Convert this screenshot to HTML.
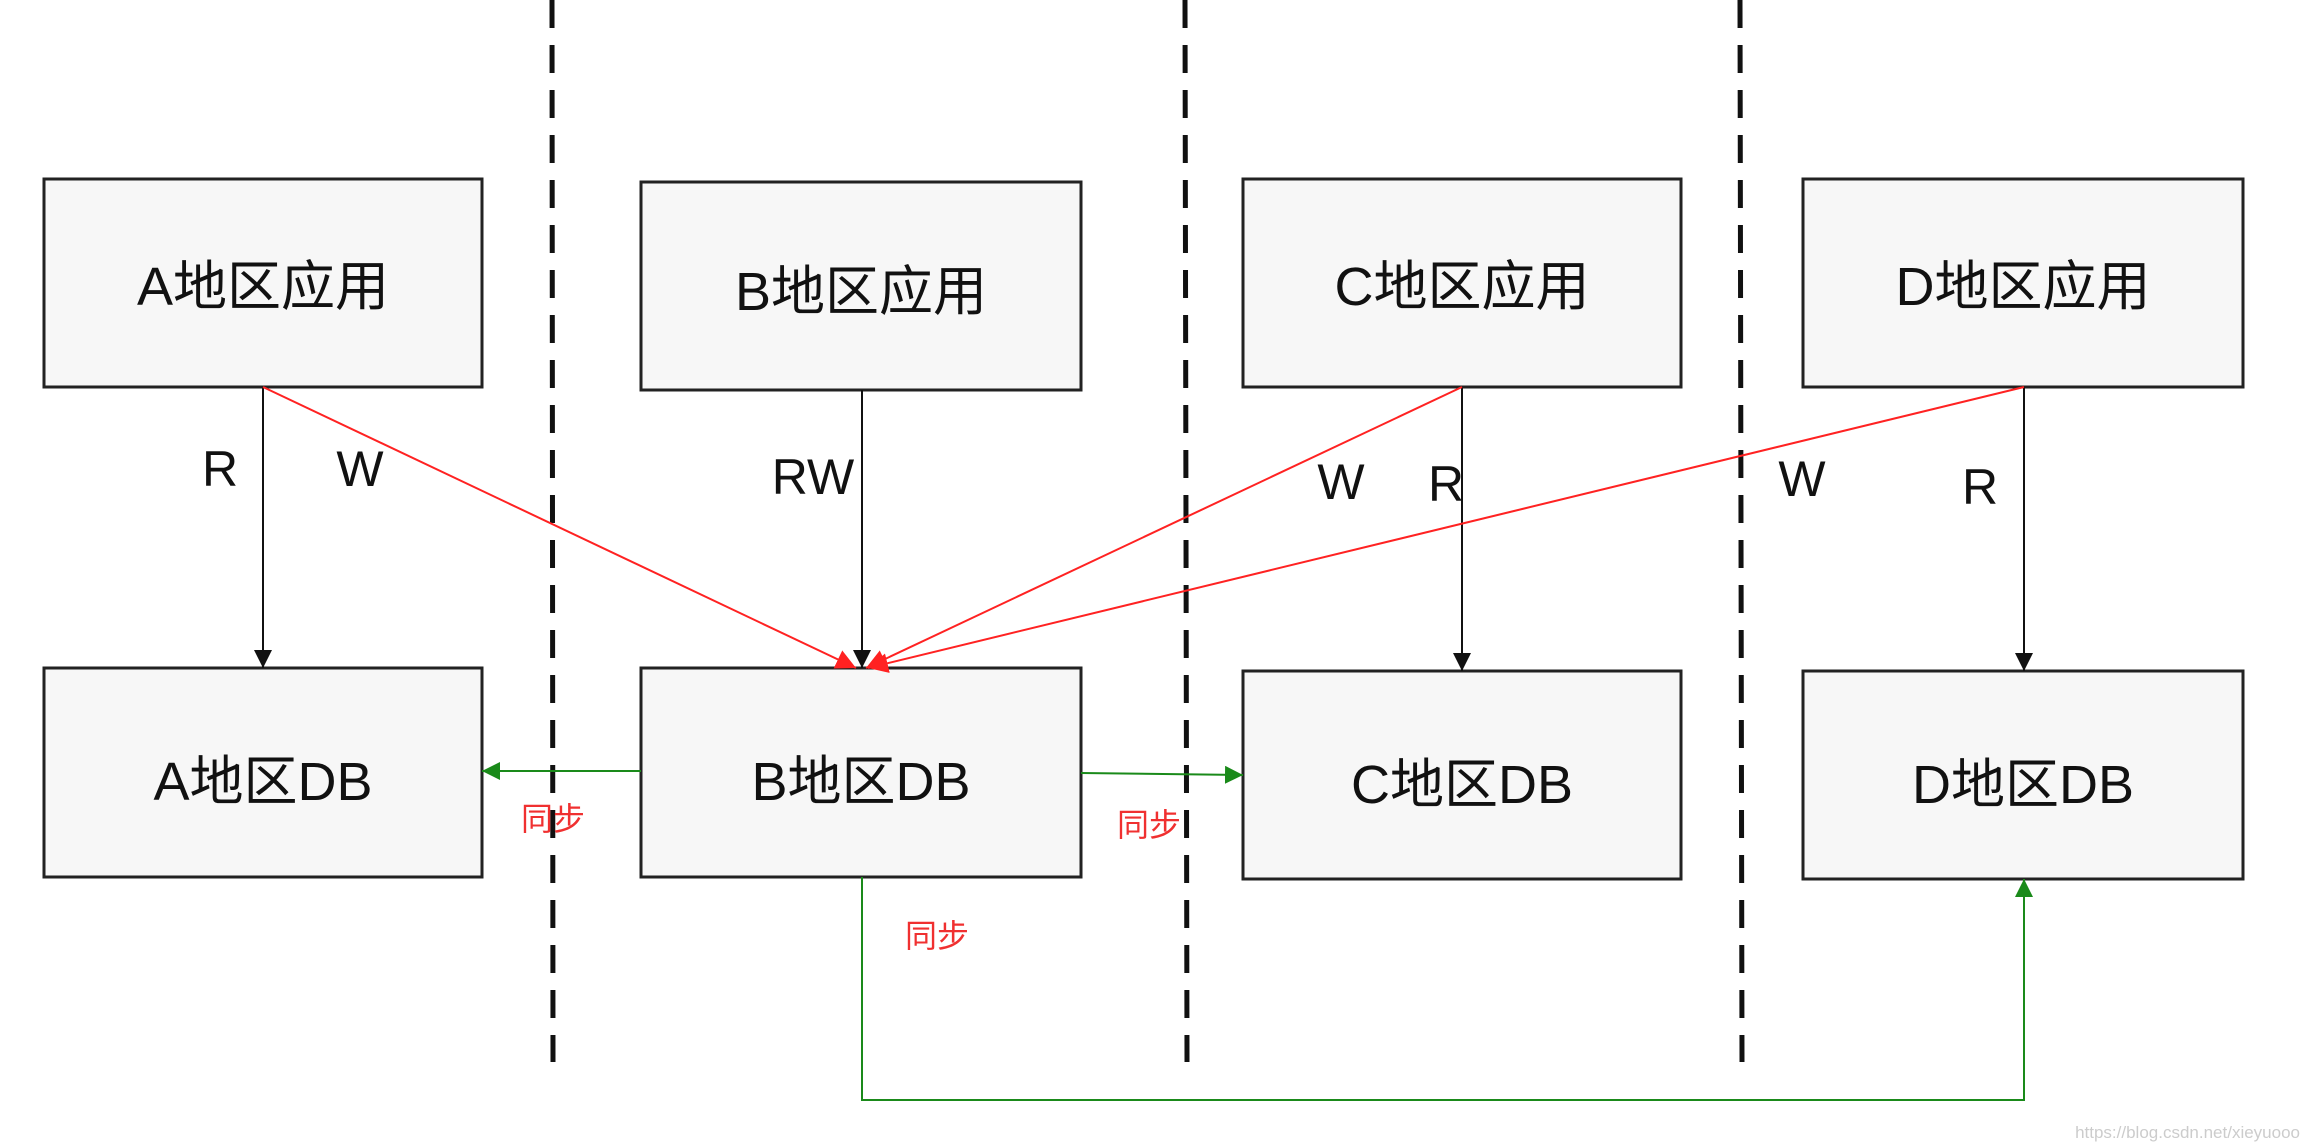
<!DOCTYPE html>
<html><head><meta charset="utf-8"><style>
body{margin:0;background:#fff;}
svg{display:block}
.b{fill:#f7f7f7;stroke:#222;stroke-width:3}
.t{font-family:"Liberation Sans","Noto Sans CJK SC",sans-serif;font-size:54px;fill:#111;text-anchor:middle}
.l{font-family:"Liberation Sans",sans-serif;font-size:50px;fill:#111;text-anchor:middle}
.s{font-family:"Noto Sans CJK SC",sans-serif;font-size:32px;fill:#f03030;text-anchor:middle}
</style></head><body>
<svg width="2306" height="1144" viewBox="0 0 2306 1144" xmlns="http://www.w3.org/2000/svg">
<defs>
<marker id="kb" viewBox="0 0 10 10" markerWidth="18" markerHeight="18" refX="10" refY="5" orient="auto" markerUnits="userSpaceOnUse"><path d="M0,0L10,5L0,10z" fill="#111"/></marker>
<marker id="r" viewBox="0 0 10 10" markerWidth="20" markerHeight="20" refX="10" refY="5" orient="auto" markerUnits="userSpaceOnUse"><path d="M0,0L10,5L0,10z" fill="#f22"/></marker>
<marker id="g" viewBox="0 0 10 10" markerWidth="18" markerHeight="18" refX="10" refY="5" orient="auto" markerUnits="userSpaceOnUse"><path d="M0,0L10,5L0,10z" fill="#1a8a1a"/></marker>
</defs>
<g stroke="#111" stroke-width="5" stroke-dasharray="28,17">
<line x1="552" y1="0" x2="553" y2="1062"/>
<line x1="1185" y1="0" x2="1187" y2="1062"/>
<line x1="1740" y1="0" x2="1742" y2="1062"/>
</g>
<rect class="b" x="44" y="179" width="438" height="208"/>
<rect class="b" x="641" y="182" width="440" height="208"/>
<rect class="b" x="1243" y="179" width="438" height="208"/>
<rect class="b" x="1803" y="179" width="440" height="208"/>
<rect class="b" x="44" y="668" width="438" height="209"/>
<rect class="b" x="641" y="668" width="440" height="209"/>
<rect class="b" x="1243" y="671" width="438" height="208"/>
<rect class="b" x="1803" y="671" width="440" height="208"/>
<text class="t" x="263" y="305">A地区应用</text>
<text class="t" x="861" y="310">B地区应用</text>
<text class="t" x="1462" y="305">C地区应用</text>
<text class="t" x="2023" y="305">D地区应用</text>
<text class="t" x="263" y="800">A地区DB</text>
<text class="t" x="861" y="800">B地区DB</text>
<text class="t" x="1462" y="803">C地区DB</text>
<text class="t" x="2023" y="803">D地区DB</text>
<g stroke="#111" stroke-width="2" fill="none">
<line x1="263" y1="387" x2="263" y2="668" marker-end="url(#kb)"/>
<line x1="862" y1="390" x2="862" y2="668" marker-end="url(#kb)"/>
<line x1="1462" y1="387" x2="1462" y2="671" marker-end="url(#kb)"/>
<line x1="2024" y1="387" x2="2024" y2="671" marker-end="url(#kb)"/>
</g>
<g stroke="#f22" stroke-width="2" fill="none">
<line x1="263" y1="387" x2="856" y2="668" marker-end="url(#r)"/>
<line x1="1462" y1="387" x2="866" y2="668" marker-end="url(#r)"/>
<line x1="2024" y1="387" x2="868" y2="668" marker-end="url(#r)"/>
</g>
<g stroke="#1a8a1a" stroke-width="2" fill="none">
<line x1="641" y1="771" x2="482" y2="771" marker-end="url(#g)"/>
<line x1="1081" y1="773" x2="1243" y2="775" marker-end="url(#g)"/>
<polyline points="862,877 862,1100 2024,1100 2024,879" marker-end="url(#g)"/>
</g>
<text class="l" x="220" y="486">R</text>
<text class="l" x="360" y="486">W</text>
<text class="l" x="813" y="494">RW</text>
<text class="l" x="1341" y="499">W</text>
<text class="l" x="1446" y="501">R</text>
<text class="l" x="1802" y="496">W</text>
<text class="l" x="1980" y="504">R</text>
<text class="s" x="553" y="830">同步</text>
<text class="s" x="1149" y="836">同步</text>
<text class="s" x="937" y="947">同步</text>
<text x="2300" y="1138" font-family="Liberation Sans,sans-serif" font-size="17" fill="#ccc" text-anchor="end">https://blog.csdn.net/xieyuooo</text>
</svg>
</body></html>
